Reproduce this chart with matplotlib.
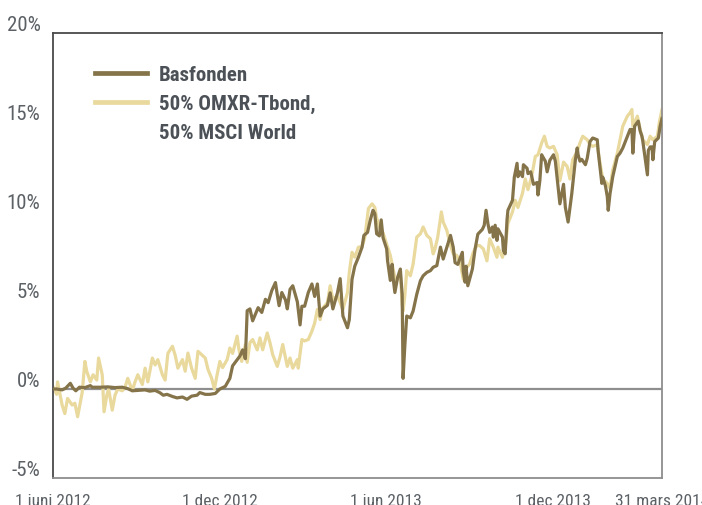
import matplotlib
matplotlib.use("Agg")
import matplotlib.pyplot as plt
import matplotlib.transforms as mtransforms
from matplotlib.lines import Line2D
import pandas as pd

plt.rcParams['font.family'] = ['Roboto Condensed', 'Barlow Condensed', 'Archivo Narrow', 'DejaVu Sans']

start = pd.Timestamp('2012-06-01')
end = pd.Timestamp('2014-03-31')

bas_days = [0, 4, 10, 14, 19, 22, 25, 29, 35, 41, 43, 52, 60, 68, 76, 82, 87, 93, 101, 106,
            112, 117, 121, 125, 131, 136, 142, 147, 152, 158, 161, 167, 172, 178, 183, 189, 194, 197, 202, 205,
            208, 211, 213, 216, 219, 222, 225, 229, 233, 236, 240, 244, 246, 248, 251, 255, 257, 260, 263, 268,
            271, 273, 276, 280, 284, 287, 290, 293, 296, 301, 304, 307, 312, 315, 318, 323, 325, 328, 331, 335,
            339, 341, 345, 348, 351, 353, 355, 358, 360, 362, 366, 367, 370, 372, 373, 375, 378, 381, 383, 384,
            386, 388, 392, 395, 399, 403, 406, 410, 414, 417, 421, 425, 428, 432, 436, 439, 441, 444, 449, 450,
            452, 453, 455, 460, 463, 466, 471, 473, 475, 477, 479, 482, 483, 485, 487, 488, 493, 494, 496, 498,
            499, 504, 506, 509, 510, 512, 515, 516, 520, 521, 524, 527, 531, 532, 534, 536, 540, 542, 545, 549,
            551, 554, 556, 560, 562, 565, 569, 573, 575, 576, 578, 580, 584, 586, 589, 592, 597, 598, 602, 603,
            606, 608, 609, 611, 614, 619, 622, 625, 630, 633, 635, 636, 638, 642, 644, 646, 647, 652, 653, 655,
            657, 658, 660, 664, 666, 668]
bas_vals = [0.0, 0.0, -0.05, 0.05, 0.32, 0.05, -0.1, 0.1, 0.08, 0.19, 0.1, 0.1, 0.12, 0.08, 0.1, 0.02, -0.1, -0.08, -0.05, -0.12,
            -0.08, -0.2, -0.35, -0.3, -0.42, -0.5, -0.45, -0.58, -0.4, -0.35, -0.2, -0.3, -0.3, -0.25, 0.0, 0.15, 0.6, 1.3, 1.64, 1.85,
            2.2, 1.7, 4.4, 4.5, 3.83, 4.2, 4.57, 4.3, 5.04, 4.85, 5.53, 5.98, 5.3, 4.68, 5.42, 5.0, 4.5, 5.6, 5.8, 4.9,
            3.6, 4.65, 4.65, 5.42, 5.9, 5.2, 5.9, 4.1, 4.5, 4.7, 5.4, 4.5, 5.4, 6.2, 4.1, 3.44, 3.9, 6.17, 6.9, 7.4,
            7.97, 8.63, 8.8, 9.48, 10.04, 9.85, 8.72, 8.6, 9.5, 8.5, 7.87, 7.2, 6.1, 7.0, 6.27, 5.42, 6.27, 6.74, 5.3, 0.6,
            2.5, 4.1, 4.0, 4.38, 5.32, 6.08, 6.36, 6.55, 6.65, 6.84, 6.93, 7.97, 7.3, 7.97, 8.63, 7.97, 7.1, 7.0, 7.68, 6.6,
            6.0, 6.9, 5.8, 6.74, 7.87, 8.7, 8.97, 9.2, 10.04, 9.3, 8.8, 9.1, 8.53, 9.2, 8.35, 9.0, 8.53, 7.78, 7.6, 9.5,
            10.04, 10.6, 11.9, 12.68, 11.93, 12.2, 11.93, 12.6, 12.4, 12.1, 12.2, 11.5, 11.6, 10.9, 11.7, 13.16, 12.8, 12.2, 12.85, 13.16,
            12.8, 11.36, 10.4, 11.5, 10.2, 9.38, 10.96, 12.88, 13.54, 13.16, 12.8, 12.9, 12.6, 12.97, 13.9, 14.1, 14.0, 13.35, 11.55, 11.9,
            11.4, 10.8, 10.04, 10.98, 11.93, 13.06, 13.25, 13.54, 14.2, 14.58, 14.58, 13.25, 14.77, 15.05, 14.5, 14.2, 13.9, 12.03, 13.4, 13.6,
            13.6, 12.88, 13.9, 14.1, 14.77, 15.2]

bench_days = [0, 4, 5, 10, 13, 16, 21, 24, 27, 32, 35, 37, 41, 44, 48, 50, 54, 56, 59, 61,
              65, 68, 71, 76, 79, 82, 87, 90, 93, 98, 101, 104, 109, 112, 115, 120, 123, 126, 131, 134,
              137, 142, 145, 148, 152, 156, 159, 163, 167, 170, 174, 177, 180, 183, 186, 191, 194, 197, 202, 204,
              207, 211, 213, 216, 219, 224, 227, 230, 235, 238, 241, 246, 249, 252, 257, 260, 263, 268, 269, 273,
              276, 280, 284, 287, 290, 293, 296, 301, 304, 307, 312, 315, 318, 323, 325, 328, 331, 335, 339, 342,
              346, 350, 353, 355, 359, 362, 366, 370, 372, 375, 377, 381, 383, 384, 386, 388, 392, 395, 399, 403,
              406, 410, 414, 417, 419, 422, 426, 428, 432, 436, 439, 443, 447, 450, 454, 457, 461, 465, 468, 472,
              476, 479, 483, 487, 488, 493, 496, 499, 504, 507, 510, 515, 518, 521, 525, 529, 532, 536, 539, 542,
              545, 549, 553, 556, 560, 564, 567, 570, 575, 578, 581, 586, 589, 592, 597, 600, 603, 608, 611, 614,
              619, 622, 625, 630, 633, 635, 636, 641, 644, 647, 652, 655, 658, 663, 665, 668]
bench_vals = [0.13, -0.3, 0.4, -0.9, -1.38, -0.53, -0.9, -0.8, -1.56, -0.2, 1.55, 1.0, 0.4, 0.8, 0.5, 1.74, 0.8, -1.28, -0.35, 0.0,
              -1.19, -0.35, 0.0, -0.1, 0.1, 0.6, -0.1, 0.4, 0.8, 0.25, 1.17, 0.4, 1.74, 1.35, 1.65, 0.8, 0.5, 2.0, 2.4, 1.9,
              1.17, 1.65, 1.0, 2.02, 1.17, 0.6, 2.12, 1.93, 1.74, 1.1, 0.6, 0.0, 0.8, 1.55, 1.2, 1.65, 2.3, 2.0, 2.97, 2.2,
              1.55, 2.5, 1.5, 2.6, 2.78, 2.2, 2.87, 2.2, 3.15, 2.6, 1.93, 1.27, 1.8, 2.5, 1.27, 1.74, 1.17, 1.65, 1.17, 2.78,
              2.7, 2.78, 3.25, 3.7, 4.47, 3.9, 4.56, 4.85, 5.8, 5.04, 5.23, 4.85, 4.47, 5.42, 6.55, 7.68, 7.4, 7.97, 8.0, 8.5,
              10.14, 10.4, 10.2, 9.6, 8.97, 8.78, 8.15, 7.5, 7.0, 6.27, 6.1, 6.5, 4.76, 4.38, 5.3, 6.65, 6.36, 7.02, 8.53, 8.72,
              9.1, 8.63, 8.44, 7.59, 7.87, 8.53, 9.95, 9.38, 8.91, 8.06, 7.59, 7.5, 7.02, 6.17, 6.84, 7.02, 7.68, 8.06, 8.06, 7.87,
              7.2, 8.44, 7.97, 7.4, 7.97, 7.4, 7.97, 9.3, 9.95, 10.6, 10.2, 11.0, 11.8, 11.2, 11.93, 13.06, 13.16, 13.82, 14.2, 13.63,
              13.54, 13.63, 13.16, 11.7, 12.75, 12.5, 11.8, 12.88, 13.35, 13.82, 14.2, 14.0, 13.73, 13.63, 13.73, 12.7, 11.8, 11.55, 11.27, 12.31,
              13.25, 14.0, 14.77, 15.33, 15.52, 15.7, 14.77, 15.33, 14.58, 14.0, 13.73, 14.2, 14.0, 14.2, 14.96, 15.7]

legend_lines = ["Basfonden", "50% OMXR-Tbond,", "50% MSCI World"]
y_ticks = [-5, 0, 5, 10, 15, 20]
y_labels = ["-5%", "0%", "5%", "10%", "15%", "20%"]
x_tick_dates = ['2012-06-01', '2012-12-01', '2013-06-01', '2013-12-01', '2014-03-31']
x_tick_labels = ["1 juni 2012", "1 dec 2012", "1 jun 2013", "1 dec 2013", "31 mars 2014"]

dark = '#85744a'
light = '#e9d99d'
text_col = '#5c6166'
FS = 15

fig = plt.figure(figsize=(7.02, 5.06), dpi=100)
ax = fig.add_axes([53/702, 1-479/506, (662-53)/702, (479-34)/506])

bas_dates = start + pd.to_timedelta(bas_days, unit='D')
bench_dates = start + pd.to_timedelta(bench_days, unit='D')

ax.axhline(0, color='#8e8e8e', lw=1.6, zorder=1)
ax.plot(bench_dates, bench_vals, color=light, lw=2.3, solid_joinstyle='round', zorder=2)
ax.plot(bas_dates, bas_vals, color=dark, lw=2.3, solid_joinstyle='round', zorder=3)

ax.set_xlim(start, end)
ax.set_ylim(-5, 20)

ax.set_yticks(y_ticks)
ax.set_yticklabels(y_labels)
ax.set_xticks(pd.to_datetime(x_tick_dates))
ax.set_xticklabels(x_tick_labels)
ax.tick_params(axis='y', length=0, pad=9, labelsize=FS, labelcolor=text_col)
ax.tick_params(axis='x', length=0, pad=11, labelsize=12.5, labelcolor=text_col)
offset = mtransforms.ScaledTranslation(0, 10/100, fig.dpi_scale_trans)
for lab in ax.get_yticklabels():
    lab.set_transform(lab.get_transform() + offset)

for side in ['left', 'top']:
    ax.spines[side].set_color('#4a4a4a')
    ax.spines[side].set_linewidth(1.3)
for side in ['right', 'bottom']:
    ax.spines[side].set_color('#8e8e8e')
    ax.spines[side].set_linewidth(1.3)

handles = [Line2D([], [], color=dark, lw=3.4),
           Line2D([], [], color=light, lw=3.4),
           Line2D([], [], color='none', lw=0)]
leg = ax.legend(handles, legend_lines, loc='upper left', bbox_to_anchor=(0.069, 0.927),
                frameon=False, fontsize=FS, handlelength=2.5, handletextpad=0.58,
                labelspacing=0.465, borderaxespad=0, borderpad=0)
for t in leg.get_texts():
    t.set_color('#4b5157')
    t.set_fontweight('bold')

fig.savefig('out.png', dpi=100)
